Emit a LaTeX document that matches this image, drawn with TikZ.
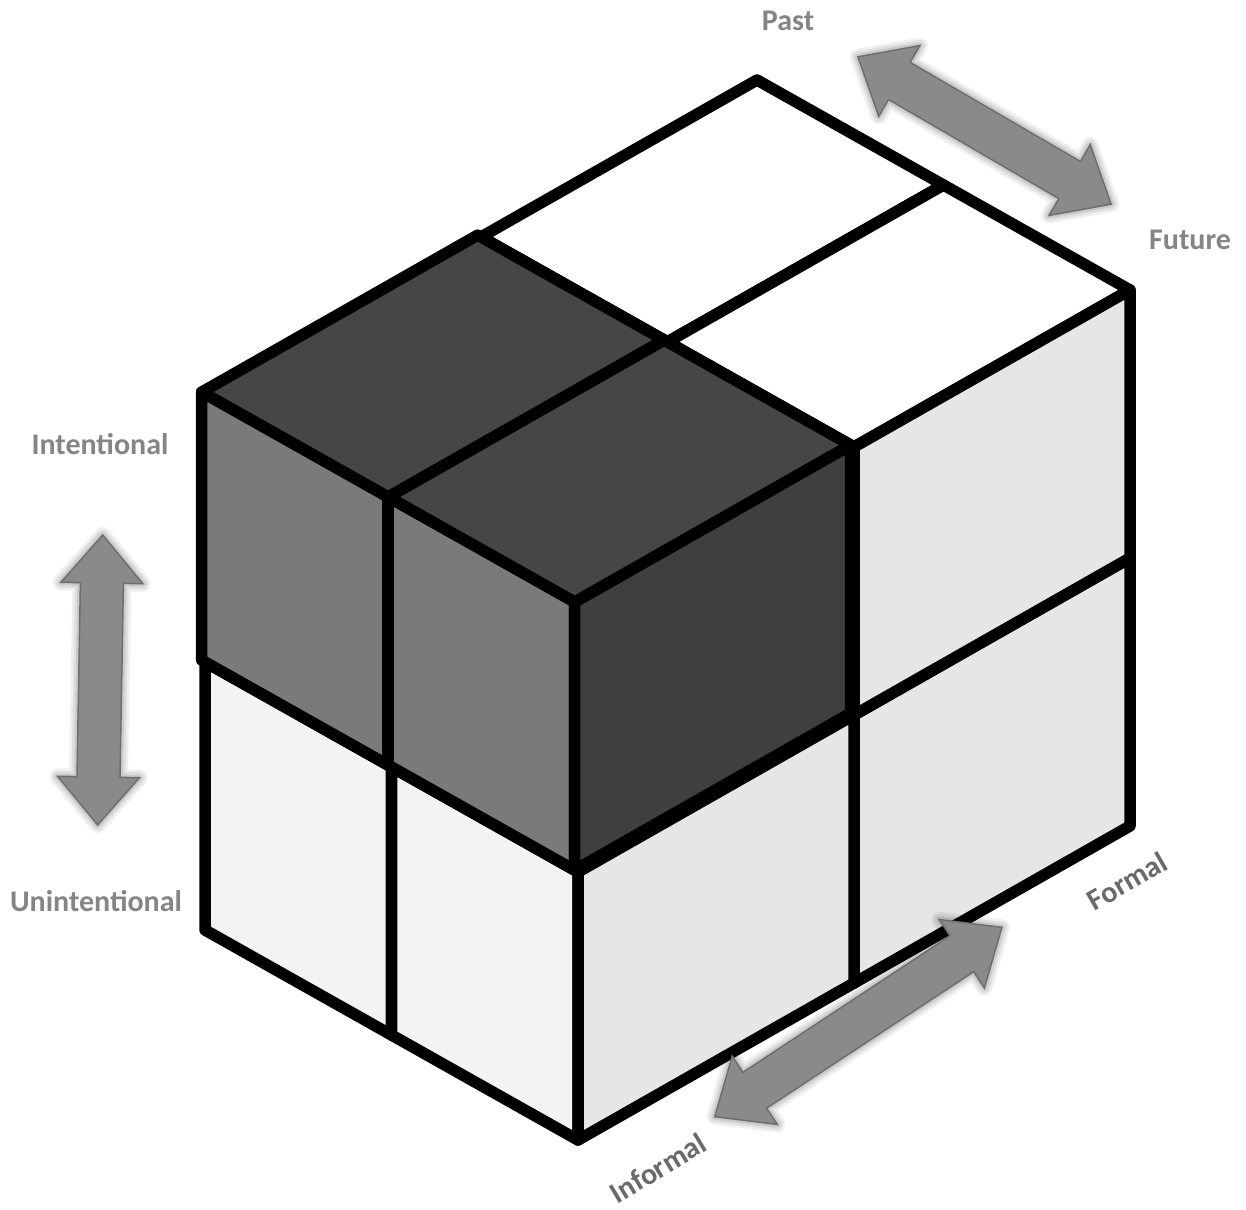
\documentclass[tikz,border=0pt]{standalone}
\usepackage{fontspec}
\setmainfont{Carlito}

\definecolor{darktop}{HTML}{464646}
\definecolor{darkleft}{HTML}{7A7A7A}
\definecolor{darkright}{HTML}{3F3F3F}
\definecolor{lighttop}{HTML}{FFFFFF}
\definecolor{lightleft}{HTML}{F3F3F3}
\definecolor{lightright}{HTML}{E6E6E6}
\definecolor{arrowfill}{HTML}{8A8A8A}
\definecolor{arrowedge}{HTML}{6E6E6E}
\definecolor{labelgray}{HTML}{858585}
\definecolor{labeldark}{HTML}{6A6A6A}

\tikzset{
  cubeedge/.style={draw=black, line width=11.5pt, line join=round},
  glow/.style={preaction={draw=black, draw opacity=#1, line join=round}},
  arrowshape/.style={fill=arrowfill, draw=arrowedge, line width=1.5pt, line join=miter,
    preaction={draw=black, draw opacity=0.06, line width=16pt, line join=round},
    preaction={draw=black, draw opacity=0.07, line width=11pt, line join=round},
    preaction={draw=black, draw opacity=0.09, line width=6pt, line join=round}},
  lbl/.style={text=labelgray, font=\fontsize{30}{36}\selectfont\bfseries, inner sep=0pt},
}

% one unit cube at grid cell (#1,#2,#3): top, front-left and front-right faces
\newcommand\unitcube[6]{%
  \filldraw[cubeedge, fill=#4] (#1,#2,#3+1) -- (#1+1,#2,#3+1) -- (#1+1,#2+1,#3+1) -- (#1,#2+1,#3+1) -- cycle;
  \filldraw[cubeedge, fill=#5] (#1,#2,#3) -- (#1+1,#2,#3) -- (#1+1,#2,#3+1) -- (#1,#2,#3+1) -- cycle;
  \filldraw[cubeedge, fill=#6] (#1,#2,#3) -- (#1,#2+1,#3) -- (#1,#2+1,#3+1) -- (#1,#2,#3+1) -- cycle;
}

% broad double-headed arrow: centre (#1,#2), angle #3, length #4
\newcommand\bidirarrow[4]{%
  \begin{scope}[shift={(#1,#2)}, rotate=#3]
    \filldraw[arrowshape]
      (-#4/2,0) -- (-#4/2+48,41) -- (-#4/2+48,21.5) -- (#4/2-48,21.5) -- (#4/2-48,41)
      -- (#4/2,0) -- (#4/2-48,-41) -- (#4/2-48,-21.5) -- (-#4/2+48,-21.5) -- (-#4/2+48,-41) -- cycle;
  \end{scope}
}

\begin{document}
\begin{tikzpicture}[x=1pt, y=-1pt]
  \useasboundingbox (0,0) rectangle (1246,1209);
  \fill[white] (0,0) rectangle (1246,1209);

  % the 2x2x2 block of cubes, drawn back to front
  \begin{scope}[shift={(578,1140)}, x={(-186.5pt,105pt)}, y={(276pt,157pt)}, z={(0pt,268pt)}]
    \unitcube{1}{1}{0}{lighttop}{lightleft}{lightright}
    \unitcube{1}{1}{1}{lighttop}{lightleft}{lightright}
    \unitcube{0}{1}{0}{lighttop}{lightleft}{lightright}
    \unitcube{0}{1}{1}{lighttop}{lightleft}{lightright}
    \unitcube{1}{0}{0}{lighttop}{lightleft}{lightright}
    \unitcube{0}{0}{0}{lighttop}{lightleft}{lightright}
    \begin{scope}[shift={(0,-0.012,0.014)}]
      \unitcube{1}{0}{1}{darktop}{darkleft}{darkright}
      \unitcube{0}{0}{1}{darktop}{darkleft}{darkright}
    \end{scope}
  \end{scope}

  % axis arrows
  \bidirarrow{984.5}{130.5}{-30.2}{293}
  \bidirarrow{100.2}{680}{89}{290}
  \bidirarrow{858.3}{1022}{33.4}{344}

  % axis labels
  \node[lbl] (past) at (788,21) {Past};
  \node[lbl] (future) at (1190,240) {Future};
  \node[lbl] (intent) at (100,444) {Intentional};
  \node[lbl] (unintent) at (96,901) {Unintentional};
  \node[lbl, text=labeldark, rotate=30] (formal) at (1127,881) {Formal};
  \node[lbl, text=labeldark, rotate=31] (informal) at (658,1168) {Informal};
\end{tikzpicture}
\end{document}
